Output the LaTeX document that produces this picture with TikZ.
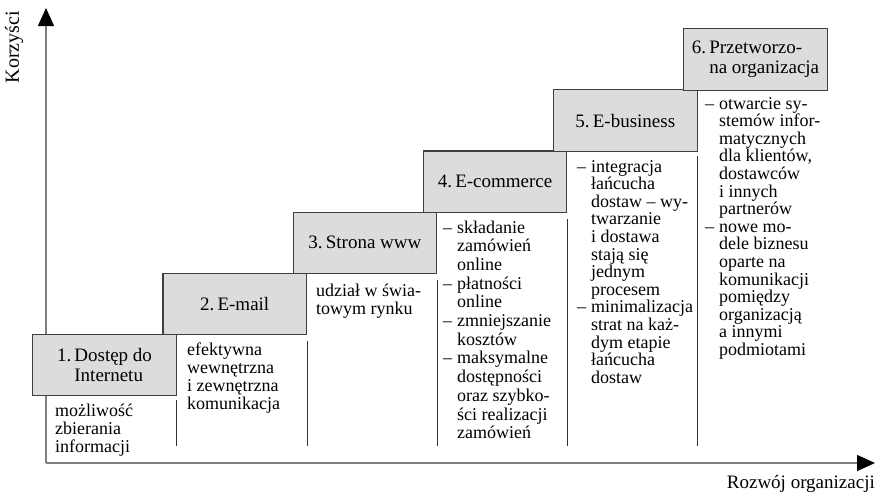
\documentclass[tikz,border=0pt]{standalone}
\usepackage{fontspec}
\setmainfont{Liberation Serif}
\usepackage{xcolor}
\definecolor{boxgray}{HTML}{DCDCDC}
\definecolor{edgegray}{HTML}{404040}
\definecolor{axisgray}{HTML}{7F7F7F}
\usepackage{tikz}
\usetikzlibrary{arrows.meta, positioning, calc}
\newlength{\pktind}
\setlength{\pktind}{14pt}
\newcommand{\pkt}{\makebox[\pktind][l]{–}}
\newcommand{\dalej}{\hspace*{\pktind}}

\begin{document}
\begin{tikzpicture}[
        x=1pt, y=-1pt,
        etap/.style={draw=edgegray, line width=1.1pt, fill=boxgray, rectangle, minimum width=143.5pt, minimum height=61.5pt, inner sep=0pt, align=left, font=\fontsize{19}{19.5}\selectfont},
        % anchored at the baseline of the last line
        opis/.style={anchor=base west, inner sep=0pt, align=left, font=\fontsize{18}{#1}\selectfont},
        opis/.default=17.6,
        sep/.style={draw=black!80, line width=0.8pt},
        axis/.style={draw=axisgray, line width=1.3pt, -{Triangle[length=18pt, width=16pt, color=black]}},
        axlabel/.style={inner sep=0pt, font=\fontsize{19}{19}\selectfont}
    ]
        \useasboundingbox (0,0) rectangle (876,493);

        % Axes
        \coordinate (O) at (46,463);
        \coordinate (ytop) at (46,8);
        \coordinate (xend) at (875,463);
        \coordinate (dol) at (0,446);
        \draw[axis] (O) -- (ytop);
        \draw[axis] (O) -- (xend);
        \node[axlabel, rotate=90, font=\fontsize{20}{20}\selectfont] (korzysci) at (14,47) {Korzyści};
        \node[axlabel, anchor=base east] (rozwoj) at (875,488) {Rozwój organizacji};

        % Stages
        \node[etap] (etap1) at (104.5,365) {1.\,Dostęp do\\\phantom{1.\,}Internetu};
        \node[etap] (etap2) at (234.7,303.9) {2.\,E-mail};
        \node[etap] (etap3) at (364.9,242.8) {3.\,Strona www};
        \node[etap] (etap4) at (495.1,181.7) {4.\,E-commerce};
        \node[etap] (etap5) at (625.3,120.6) {5.\,E-business};
        \node[etap] (etap6) at (755.5,59.5) {6.\,Przetworzo-\\\phantom{6.\,}na organizacja};

        % Column separators
        \draw[sep] ([yshift=-4pt]etap1.south east) -- (etap1.south east |- dol);
        \draw[sep] ([yshift=-6pt]etap2.south east) -- (etap2.south east |- dol);
        \draw[sep] ([yshift=-6pt]etap3.south east) -- (etap3.south east |- dol);
        \draw[sep] ([yshift=-6pt]etap4.south east) -- (etap4.south east |- dol);
        \draw[sep] ([yshift=-4pt]etap5.south east) -- (etap5.south east |- dol);

        % Descriptions
        \node[opis=18.1] (opis1) at (55,452.2) {możliwość\\zbierania\\informacji};
        \node[opis=18.3] (opis2) at (187,409.9) {efektywna\\wewnętrzna\\i zewnętrzna\\komunikacja};
        \node[opis=18.1] (opis3) at (316,314.1) {udział w świa-\\towym rynku};
        \node[opis=18.7] (opis4) at (443,438.7) {\pkt składanie\\\dalej zamówień\\\dalej online\\\pkt płatności\\\dalej online\\\pkt zmniejszanie\\\dalej kosztów\\\pkt maksymalne\\\dalej dostępności\\\dalej oraz szybko-\\\dalej ści realizacji\\\dalej zamówień};
        \node[opis] (opis5) at (577,383.2) {\pkt integracja\\\dalej łańcucha\\\dalej dostaw – wy-\\\dalej twarzanie\\\dalej i dostawa\\\dalej stają się\\\dalej jednym\\\dalej procesem\\\pkt minimalizacja\\\dalej strat na każ-\\\dalej dym etapie\\\dalej łańcucha\\\dalej dostaw};
        \node[opis] (opis6) at (705,355.4) {\pkt otwarcie sy-\\\dalej stemów infor-\\\dalej matycznych\\\dalej dla klientów,\\\dalej dostawców\\\dalej i innych\\\dalej partnerów\\\pkt nowe mo-\\\dalej dele biznesu\\\dalej oparte na\\\dalej komunikacji\\\dalej pomiędzy\\\dalej organizacją\\\dalej a innymi\\\dalej podmiotami};

    \end{tikzpicture}
\end{document}
